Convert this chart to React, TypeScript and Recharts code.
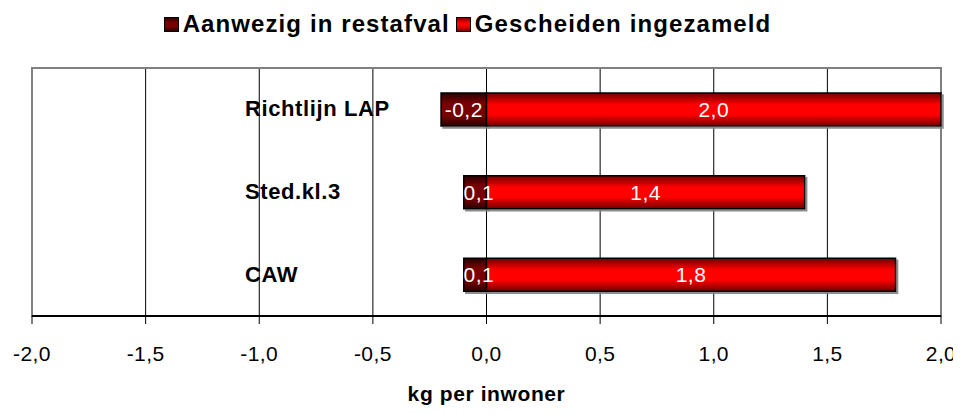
import React from "react";
import {
  BarChart,
  Bar,
  XAxis,
  YAxis,
  CartesianGrid,
  Legend,
  LabelList,
  ReferenceArea,
} from "recharts";

const categories = ["Richtlijn LAP", "Sted.kl.3", "CAW"];
const restafval = [-0.2, -0.1, -0.1];
const gescheiden = [2.0, 1.4, 1.8];
const xTicks = [-2, -1.5, -1, -0.5, 0, 0.5, 1, 1.5, 2];
const seriesNames = ["Aanwezig in restafval", "Gescheiden ingezameld"];
const axisTitle = "kg per inwoner";

const data = categories.map((name, i) => ({
  name,
  restafval: restafval[i],
  gescheiden: gescheiden[i],
}));

const FONT = "Arial, 'Liberation Sans', sans-serif";
const fmt = (v: number) => v.toFixed(1).replace(".", ",");

const CategoryTick = (props: any) => {
  const { x, y, payload } = props;
  return (
    <text
      x={x + 213}
      y={y}
      dy={7}
      textAnchor="start"
      fontFamily={FONT}
      fontWeight="bold"
      fontSize={22}
      letterSpacing={0.6}
      fill="#000"
    >
      {payload.value}
    </text>
  );
};

const LegendContent = () => {
  const items = [
    { name: seriesNames[0], fill: "linear-gradient(#300000, #780000 35%, #780000 65%, #300000)" },
    { name: seriesNames[1], fill: "linear-gradient(#800000, #ff0000 40%, #ff0000 60%, #800000)" },
  ];
  return (
    <div
      style={{
        display: "flex",
        justifyContent: "center",
        alignItems: "center",
        fontFamily: FONT,
        fontWeight: "bold",
        fontSize: 24,
        letterSpacing: 1.1,
        color: "#000",
        paddingRight: 8,
      }}
    >
      {items.map((it) => (
        <div key={it.name} style={{ display: "flex", alignItems: "center", marginRight: 6 }}>
          <span
            style={{
              display: "inline-block",
              width: 13,
              height: 13,
              background: it.fill,
              border: "1px solid #000",
              marginRight: 4,
            }}
          />
          <span>{it.name}</span>
        </div>
      ))}
    </div>
  );
};

export default function App() {
  return (
    <div style={{ width: 953 }}>
      <BarChart
        width={953}
        height={400}
        data={data}
        layout="vertical"
        stackOffset="sign"
        barSize={33}
        margin={{ top: 30, right: 20, bottom: 0, left: 0 }}
        style={{ fontFamily: FONT }}
      >
        <defs>
          <linearGradient id="gradDark" x1="0" y1="0" x2="0" y2="1">
            <stop offset="0%" stopColor="#280000" />
            <stop offset="30%" stopColor="#780000" />
            <stop offset="70%" stopColor="#780000" />
            <stop offset="100%" stopColor="#280000" />
          </linearGradient>
          <linearGradient id="gradRed" x1="0" y1="0" x2="0" y2="1">
            <stop offset="0%" stopColor="#700000" />
            <stop offset="35%" stopColor="#ff0000" />
            <stop offset="65%" stopColor="#ff0000" />
            <stop offset="100%" stopColor="#700000" />
          </linearGradient>
          <filter id="barShadow" x="-5%" y="-20%" width="115%" height="150%">
            <feDropShadow dx="2" dy="2" stdDeviation="0" floodColor="#808080" floodOpacity="0.9" />
          </filter>
        </defs>
        <Legend
          verticalAlign="top"
          height={30}
          wrapperStyle={{ top: 2 }}
          content={<LegendContent />}
        />
        <CartesianGrid horizontal={false} vertical={true} stroke="#000" strokeWidth={1} />
        <ReferenceArea x1={-2} x2={2} fill="none" stroke="#808080" strokeWidth={2} ifOverflow="visible" />
        <XAxis
          type="number"
          domain={[-2, 2]}
          ticks={xTicks}
          tickFormatter={fmt}
          axisLine={{ stroke: "#000", strokeWidth: 2 }}
          tickLine={{ stroke: "#000", strokeWidth: 1 }}
          tickSize={8}
          tickMargin={22}
          tick={{ fill: "#000", fontSize: 21, fontFamily: FONT, letterSpacing: 0.4 }}
          height={92}
          interval={0}
          label={{
            value: axisTitle,
            position: "insideBottom",
            offset: 7,
            fill: "#000",
            fontSize: 21,
            fontWeight: "bold",
            fontFamily: FONT,
            letterSpacing: 0.6,
          }}
        />
        <YAxis
          type="category"
          dataKey="name"
          width={24}
          axisLine={false}
          tickLine={false}
          tickSize={0}
          tickMargin={0}
          tick={<CategoryTick />}
        />
        <Bar
          dataKey="restafval"
          name={seriesNames[0]}
          stackId="a"
          fill="url(#gradDark)"
          stroke="#000"
          strokeWidth={1.5}
          filter="url(#barShadow)"
          isAnimationActive={false}
        >
          <LabelList
            dataKey="restafval"
            position="center"
            formatter={(v: any) => fmt(Number(v))}
            fill="#fff"
            fontSize={21}
            fontFamily={FONT}
            letterSpacing={0.5}
          />
        </Bar>
        <Bar
          dataKey="gescheiden"
          name={seriesNames[1]}
          stackId="a"
          fill="url(#gradRed)"
          stroke="#000"
          strokeWidth={1.5}
          filter="url(#barShadow)"
          isAnimationActive={false}
        >
          <LabelList
            dataKey="gescheiden"
            position="center"
            formatter={(v: any) => fmt(Number(v))}
            fill="#fff"
            fontSize={21}
            fontFamily={FONT}
            letterSpacing={0.5}
          />
        </Bar>
      </BarChart>
    </div>
  );
}
